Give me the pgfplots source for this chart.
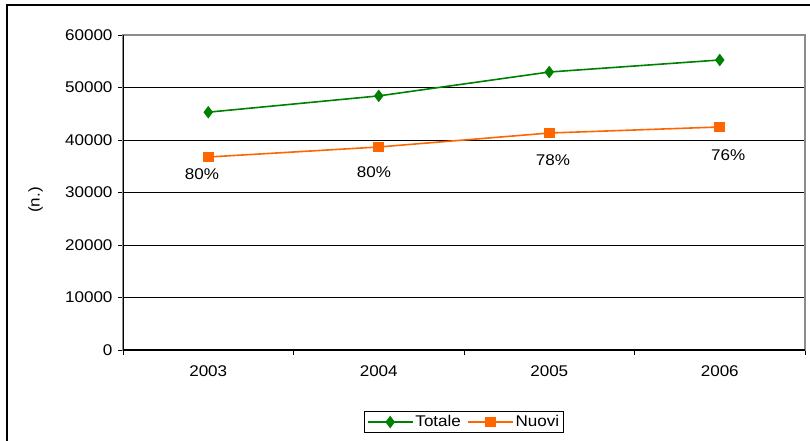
\documentclass[border=0pt]{standalone}
\usepackage{fontspec}
\setmainfont{Liberation Sans}[FakeStretch=1.1]
\usepackage{pgfplots}
\pgfplotsset{compat=1.18}
\usetikzlibrary{calc}
\definecolor{totgreen}{RGB}{0,128,0}
\definecolor{nuovorange}{RGB}{255,102,0}
\begin{document}
\begin{tikzpicture}[font=\fontsize{15.5bp}{18bp}\selectfont]
\begin{axis}[
  scale only axis, width=682bp, height=315bp,
  xmin=-0.5, xmax=3.5, ymin=0, ymax=60000,
  xtick={0,1,2,3}, xticklabels={2003,2004,2005,2006},
  major x tick style={draw=none},
  minor xtick={-0.5,0.5,1.5,2.5,3.5},
  ytick={0,10000,...,60000},
  xtick pos=lower, ytick pos=left,
  tick align=outside, major tick length=5bp, minor tick length=5bp,
  tick style={black, line width=0.8bp},
  xticklabel style={yshift=-7bp},
  yticklabel style={xshift=-2bp},
  ymajorgrids, grid style={black, line width=0.8bp},
  axis line style={gray!90, line width=1.2bp},
  scaled y ticks=false,
  /pgf/number format/1000 sep={},
  /pgf/number format/assume math mode=true,
  ylabel={(n.)},
  ylabel style={at={(axis description cs:-0.128,0.476)}, anchor=center},
  legend columns=2,
  legend style={at={(axis description cs:0.5,-0.2286)}, anchor=center,
    draw=black, line width=0.8bp, inner sep=2bp,
    /tikz/every even column/.append style={column sep=4bp}},
  legend image code/.code={%
    \draw[#1, mark repeat=2, mark phase=2] plot coordinates {(0bp,0bp) (22.5bp,0bp) (45bp,0bp)};},
]
\addplot[totgreen, line width=1.6bp, mark=diamond*, mark size=5bp, mark options={solid}]
  coordinates {(0,45300) (1,48400) (2,52950) (3,55240)};
\addlegendentry{Totale}
\addplot[nuovorange, line width=1.6bp, mark=square*, mark size=4.5bp, mark options={solid}]
  coordinates {(0,36760) (1,38670) (2,41330) (3,42480)};
\addlegendentry{Nuovi}
\node at (axis cs:-0.037,33470) {80\%};
\node at (axis cs:0.972,33850) {80\%};
\node at (axis cs:2.022,36190) {78\%};
\node at (axis cs:3.049,37140) {76\%};
\draw[black, line width=1.2bp] (rel axis cs:0,1) -- (rel axis cs:0,0) -- (rel axis cs:1,0);
\coordinate (sw) at (rel axis cs:0,0);
\coordinate (ne) at (rel axis cs:1,1);
\end{axis}
\draw[black, line width=2bp] ($(sw)+(-116bp,-95bp)$) |- ($(ne)+(10bp,29.5bp)$);
\pgfresetboundingbox
\useasboundingbox ($(sw)+(-123bp,-90bp)$) rectangle ($(ne)+(5bp,35bp)$);
\end{tikzpicture}
\end{document}
